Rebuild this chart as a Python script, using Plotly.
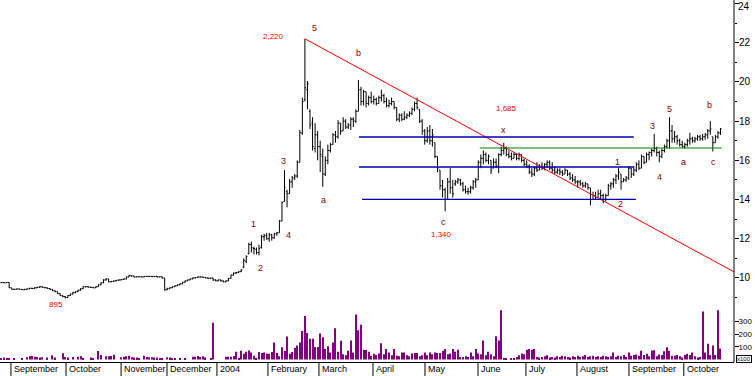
import plotly.graph_objects as go

# ---------------- data ----------------
open_ = [
 9.76,9.76,9.75,9.77,9.50,9.42,9.42,9.44,9.42,9.40,
 9.42,9.44,9.47,9.46,9.50,9.52,9.55,9.52,9.50,9.46,
 9.42,9.35,9.30,9.20,9.10,9.05,9.00,9.10,9.18,9.25,
 9.30,9.38,9.45,9.55,9.55,9.53,9.52,9.50,9.55,9.65,
 9.75,9.90,9.95,9.80,9.82,9.85,9.88,9.90,9.92,9.95,
 10.05,10.12,10.10,10.05,10.06,10.06,10.05,10.08,10.08,10.08,
 10.07,10.08,10.05,10.06,10.00,9.40,9.45,9.50,9.55,9.60,
 9.65,9.70,9.78,9.85,9.90,9.95,10.00,10.02,10.05,10.05,
 10.03,10.00,9.98,10.00,9.90,9.85,9.90,9.85,9.80,9.85,
 9.98,10.15,10.25,10.28,10.32,10.55,10.85,11.25,11.70,11.50,
 11.45,11.30,11.55,12.10,12.15,12.00,12.20,12.05,12.25,12.30,
 12.90,13.90,14.40,14.30,14.90,15.10,15.20,15.90,17.40,19.10,
 19.60,18.50,17.90,16.60,17.30,16.70,16.20,15.30,16.00,16.50,
 16.80,17.30,17.20,17.90,17.50,18.00,17.70,17.80,18.10,18.00,
 18.50,19.60,19.00,19.50,18.90,19.20,19.00,19.10,18.90,19.20,
 19.30,19.00,18.80,18.90,19.00,18.70,18.10,18.30,18.10,18.20,
 18.30,18.40,18.60,18.90,18.60,18.00,17.50,17.00,17.50,17.00,
 16.90,16.20,15.50,14.70,14.50,14.00,14.90,14.60,14.80,14.90,
 15.00,14.80,14.50,14.40,14.40,14.60,14.90,15.00,15.90,16.10,
 16.30,16.00,16.00,15.60,15.90,15.70,16.30,16.50,16.60,16.30,
 16.20,16.10,16.30,16.10,16.30,16.00,15.80,15.70,15.40,15.30,
 15.60,15.50,15.70,15.60,15.80,15.90,15.60,15.50,15.40,15.50,
 15.40,15.30,15.50,15.30,15.10,15.00,14.90,14.90,14.80,14.70,
 14.80,14.60,14.00,14.20,14.10,14.30,14.20,14.00,14.20,14.70,
 14.80,15.00,15.20,15.30,14.90,15.00,15.10,15.60,15.30,15.50,
 15.80,15.60,16.20,15.90,16.30,16.40,16.50,16.60,16.40,16.20,
 16.50,16.70,17.00,17.50,17.10,17.20,17.00,16.80,16.70,16.80,
 17.00,17.10,17.00,17.10,17.20,17.10,17.20,17.30,17.50,17.20,
 16.90,17.20,17.40]
high = [
 9.78,9.78,9.78,9.78,9.50,9.45,9.46,9.45,9.43,9.44,
 9.46,9.50,9.50,9.52,9.55,9.58,9.57,9.53,9.51,9.48,
 9.43,9.36,9.31,9.22,9.12,9.08,9.12,9.20,9.27,9.32,
 9.40,9.47,9.57,9.58,9.57,9.55,9.53,9.57,9.68,9.78,
 9.93,9.98,9.96,9.85,9.87,9.90,9.92,9.94,9.97,10.07,
 10.14,10.13,10.11,10.08,10.08,10.07,10.10,10.10,10.10,10.09,
 10.10,10.09,10.08,10.07,10.00,9.50,9.52,9.57,9.62,9.67,
 9.72,9.80,9.87,9.92,9.97,10.02,10.04,10.07,10.07,10.06,
 10.04,10.02,10.02,10.00,9.93,9.92,9.92,9.87,9.87,10.00,
 10.17,10.27,10.30,10.34,10.45,11.00,11.15,11.80,11.85,11.60,
 11.55,11.70,12.20,12.25,12.30,12.30,12.25,12.30,12.35,12.95,
 13.90,15.50,14.50,15.05,15.20,15.30,16.00,17.55,19.20,22.20,
 20.05,18.60,18.20,17.90,17.50,17.00,16.60,16.20,16.80,16.90,
 17.40,17.50,18.05,17.90,18.20,18.10,17.90,18.20,18.20,18.60,
 20.10,19.75,19.60,19.50,19.30,19.50,19.30,19.20,19.30,19.60,
 19.40,19.20,19.10,19.20,19.00,18.70,18.40,18.40,18.50,18.40,
 18.50,18.70,19.00,19.20,18.60,18.10,17.60,17.70,17.80,17.60,
 16.90,16.20,15.50,15.00,14.60,15.10,15.60,15.00,15.00,15.10,
 15.05,14.90,14.70,14.60,14.70,15.00,15.10,16.00,16.30,16.50,
 16.40,16.30,16.00,16.10,16.10,16.35,16.70,16.90,16.70,16.50,
 16.40,16.40,16.35,16.40,16.30,16.10,16.00,15.80,15.60,15.70,
 15.90,15.80,15.90,15.85,16.00,16.00,15.90,15.70,15.60,15.60,
 15.50,15.60,15.50,15.40,15.30,15.20,15.00,15.00,14.90,14.90,
 14.80,14.60,14.40,14.40,14.50,14.50,14.30,14.30,14.80,14.90,
 15.10,15.30,15.60,15.30,15.10,15.20,15.70,15.60,15.70,15.90,
 16.00,16.30,16.20,16.40,16.45,16.60,17.35,16.70,16.50,16.60,
 16.80,17.10,18.20,17.80,17.50,17.30,17.10,17.00,16.90,17.10,
 17.40,17.20,17.20,17.30,17.30,17.35,17.40,17.60,18.00,17.20,
 17.30,17.50,17.65]
low = [
 9.74,9.74,9.74,9.48,9.40,9.40,9.40,9.40,9.38,9.38,
 9.40,9.42,9.44,9.44,9.48,9.50,9.50,9.47,9.44,9.40,
 9.33,9.27,9.18,9.08,9.02,8.95,8.98,9.08,9.15,9.22,
 9.28,9.35,9.43,9.52,9.51,9.49,9.47,9.48,9.54,9.63,
 9.73,9.86,9.78,9.78,9.80,9.82,9.85,9.87,9.90,9.93,
 10.03,10.06,10.03,10.03,10.04,10.03,10.04,10.06,10.05,10.05,
 10.05,10.03,10.03,9.97,9.35,9.38,9.43,9.48,9.53,9.58,
 9.63,9.68,9.76,9.83,9.88,9.93,9.97,10.00,10.02,10.01,
 9.98,9.96,9.96,9.85,9.83,9.83,9.82,9.78,9.78,9.83,
 9.96,10.12,10.20,10.25,10.30,10.50,10.75,11.20,11.30,11.20,
 11.20,11.15,11.50,11.90,11.95,11.85,11.90,12.00,12.15,12.30,
 12.90,13.90,13.60,14.30,14.60,15.00,15.10,15.90,17.30,19.00,
 18.60,17.60,16.50,16.40,16.00,15.40,14.65,15.20,15.80,16.40,
 16.80,16.90,17.10,17.30,17.50,17.60,17.60,17.55,17.70,17.90,
 18.50,18.80,18.80,18.70,18.80,18.90,18.85,18.80,18.90,19.00,
 18.90,18.70,18.70,18.80,18.60,18.00,17.95,18.00,18.05,18.10,
 18.20,18.30,18.50,18.60,17.90,17.30,16.80,16.90,16.80,16.70,
 16.10,15.40,14.50,14.10,13.40,14.00,14.30,14.10,14.70,14.80,
 14.70,14.40,14.30,14.25,14.30,14.50,14.60,15.00,15.60,15.80,
 15.90,15.80,15.30,15.60,15.60,15.35,16.20,16.30,16.20,16.10,
 16.00,16.10,16.00,16.00,15.90,15.70,15.60,15.30,15.15,15.20,
 15.40,15.50,15.50,15.50,15.60,15.50,15.35,15.30,15.30,15.25,
 15.20,15.30,15.20,15.00,14.90,14.80,14.60,14.70,14.60,14.60,
 14.50,13.70,14.00,14.00,14.10,14.00,13.80,13.90,14.20,14.50,
 14.60,14.80,15.00,14.50,14.90,14.90,15.00,15.10,15.20,15.40,
 15.50,15.60,15.80,15.90,16.00,16.20,16.40,16.20,15.90,16.10,
 16.40,16.60,16.60,16.90,16.90,16.80,16.70,16.65,16.60,16.70,
 16.80,16.90,16.90,17.00,17.00,17.00,17.05,17.10,17.30,16.45,
 16.90,17.10,17.30]
close = [
 9.76,9.75,9.77,9.50,9.42,9.42,9.44,9.42,9.40,9.42,
 9.44,9.47,9.46,9.50,9.52,9.55,9.52,9.50,9.46,9.42,
 9.35,9.30,9.20,9.10,9.05,9.00,9.10,9.18,9.25,9.30,
 9.38,9.45,9.55,9.55,9.53,9.52,9.50,9.55,9.65,9.75,
 9.90,9.95,9.80,9.82,9.85,9.88,9.90,9.92,9.95,10.05,
 10.12,10.10,10.05,10.06,10.06,10.05,10.08,10.08,10.08,10.07,
 10.08,10.05,10.06,10.00,9.40,9.45,9.50,9.55,9.60,9.65,
 9.70,9.78,9.85,9.90,9.95,10.00,10.02,10.05,10.05,10.03,
 10.00,9.98,10.00,9.90,9.85,9.90,9.85,9.80,9.85,9.98,
 10.15,10.25,10.28,10.32,10.40,10.90,11.10,11.70,11.55,11.50,
 11.30,11.50,12.10,12.15,12.00,12.20,12.05,12.25,12.30,12.90,
 13.85,14.60,14.30,14.90,15.10,15.20,15.90,17.40,19.00,19.70,
 19.90,17.80,16.70,17.30,16.70,16.30,15.30,16.00,16.50,16.80,
 17.30,17.20,17.90,17.50,18.00,17.70,17.80,18.10,18.00,18.50,
 19.60,19.00,19.50,18.90,19.20,19.00,19.10,18.90,19.20,19.30,
 19.00,18.80,18.90,19.00,18.70,18.10,18.30,18.10,18.20,18.30,
 18.40,18.60,18.90,18.70,18.00,17.50,17.00,17.50,17.00,17.30,
 16.20,15.60,14.70,14.50,14.00,14.90,14.60,14.30,14.90,15.00,
 14.80,14.50,14.40,14.40,14.60,14.90,15.00,15.90,16.10,16.30,
 16.00,16.20,15.50,15.90,15.70,16.30,16.50,16.60,16.30,16.20,
 16.10,16.30,16.10,16.30,16.00,15.80,15.70,15.40,15.30,15.60,
 15.50,15.70,15.60,15.80,15.90,15.60,15.50,15.40,15.50,15.40,
 15.30,15.50,15.30,15.10,15.00,14.90,14.90,14.80,14.70,14.80,
 14.60,14.00,14.20,14.10,14.30,14.20,14.00,14.20,14.70,14.80,
 15.00,15.20,15.40,14.90,15.00,15.10,15.60,15.30,15.50,15.80,
 15.60,16.20,15.90,16.30,16.40,16.50,16.60,16.40,16.20,16.50,
 16.70,17.00,17.50,17.10,17.20,17.00,16.80,16.70,16.80,17.00,
 17.10,17.00,17.10,17.20,17.10,17.20,17.30,17.50,17.60,16.90,
 17.20,17.40,17.60]
volume = [
 12,15,12,12,0,12,0,0,12,0,
 18,25,28,22,20,15,18,0,15,0,
 33,15,0,0,49,20,15,0,20,0,
 22,25,12,0,0,15,12,0,66,35,
 0,25,25,28,38,0,0,18,22,25,
 30,18,15,15,12,0,30,20,18,18,
 15,15,12,12,0,18,15,12,12,0,
 12,0,12,0,0,22,22,28,20,25,
 15,0,12,290,0,0,0,0,22,22,
 22,28,60,12,68,45,60,70,55,30,
 12,58,50,55,45,45,58,134,50,25,
 96,66,180,45,58,90,109,134,224,342,
 208,164,164,98,98,205,175,82,104,55,
 134,246,60,148,41,33,68,150,55,355,
 230,273,74,74,60,30,45,35,46,128,
 41,82,55,33,82,30,25,55,55,33,
 25,46,50,50,25,33,55,33,55,41,
 55,50,50,68,82,41,46,82,60,77,
 20,20,25,20,55,25,82,46,41,150,
 33,60,41,25,183,150,388,5,5,0,
 8,8,20,33,46,41,77,82,77,82,
 20,15,20,25,33,15,20,15,25,20,
 30,25,20,15,25,20,30,20,25,35,
 20,25,30,20,25,20,30,25,20,25,
 55,20,30,25,35,20,55,30,35,40,
 30,68,35,45,25,70,72,25,40,35,
 65,96,68,30,30,35,25,15,35,45,
 35,55,25,15,20,377,55,123,35,109,
 35,388,87]

# month boundaries, expressed in trading-day index, and their labels
month_starts = [3.7, 25.3, 46.9, 64.9, 84.5, 104.5, 124.5, 145.7, 166.1, 186.9, 205.7, 225.7, 246.1, 267.6]
month_labels = ["September", "October", "November", "December", "2004", "February", "March",
                "April", "May", "June", "July", "August", "September", "October"]

price_ticks = [10, 12, 14, 16, 18, 20, 22, 24]
price_tick_text = ["10", "12", "14", "16", "18", "20", "22", ""]   # "24" drawn below the top edge
top_tick_text = "24"
vol_ticks = [100, 200, 300]
vol_tick_text = ["100", "200", "300"]

# ---------------- figure ----------------
idx = list(range(len(close)))
vidx = list(range(len(volume)))

fig = go.Figure()
fig.add_trace(go.Ohlc(x=idx, open=open_, high=high, low=low, close=close,
                      increasing=dict(line=dict(color="black", width=1)),
                      decreasing=dict(line=dict(color="black", width=1)),
                      tickwidth=0.45, yaxis="y", hoverinfo="skip"))
fig.add_trace(go.Bar(x=vidx, y=volume, width=0.4, marker=dict(color="#800080", line=dict(width=0)),
                     yaxis="y2", hoverinfo="skip"))

X_END = 287.3
FONT = "Liberation Sans, Arial, sans-serif"

shapes = []
# trend line from the top
shapes.append(dict(type="line", xref="x", yref="y", x0=119, y0=22.2, x1=X_END, y1=10.31,
                   line=dict(color="#ff0000", width=1)))
# blue horizontal levels
for y, x0, x1 in [(17.19, 140.2, 248.0), (15.66, 140.2, 248.0), (14.01, 141.4, 248.8)]:
    shapes.append(dict(type="line", xref="x", yref="y", x0=x0, x1=x1, y0=y, y1=y,
                       line=dict(color="#0000b4", width=1.3)))
# green level
shapes.append(dict(type="line", xref="x", yref="y", x0=187.6, x1=282.5, y0=16.63, y1=16.63,
                   line=dict(color="#008000", width=1.2)))
# right axis line
shapes.append(dict(type="line", xref="paper", yref="paper", x0=1, x1=1, y0=0, y1=1,
                   line=dict(color="black", width=1)))
# month separators below the axis
for m in month_starts:
    shapes.append(dict(type="line", xref="x", yref="paper", x0=m, x1=m, y0=0, y1=-0.04,
                       line=dict(color="black", width=1)))

annotations = []
for m, lab in zip(month_starts, month_labels):
    annotations.append(dict(x=m, y=-0.02, xref="x", yref="paper", text=lab, showarrow=False,
                            xanchor="left", yanchor="middle", xshift=1,
                            font=dict(family=FONT, size=9, color="black")))

wave = [("5", 122.7, 22.74), ("b", 140, 21.5), ("3", 110.5, 15.97), ("1", 99, 12.74),
        ("2", 101.5, 10.53), ("4", 112.7, 12.18), ("a", 126.2, 14.0), ("c", 173.3, 12.84),
        ("x", 196.9, 17.55), ("3", 255.2, 17.77), ("5", 261.9, 18.62), ("b", 277.8, 18.8),
        ("a", 267.5, 15.9), ("c", 279.1, 15.9), ("4", 257.9, 15.17), ("1", 241.5, 15.9),
        ("2", 242.8, 13.78)]
for t, x, y in wave:
    annotations.append(dict(x=x, y=y, xref="x", yref="y", text=t, showarrow=False,
                            font=dict(family=FONT, size=9, color="#8b0000")))
prices = [("2,220", 106.5, 22.3), ("1,340", 172.4, 12.23), ("1,685", 198.1, 18.62), ("895", 21.4, 8.66)]
for t, x, y in prices:
    annotations.append(dict(x=x, y=y, xref="x", yref="y", text=t, showarrow=False,
                            font=dict(family=FONT, size=8, color="#ff0000")))
annotations.append(dict(x=1, y=0.008, xref="paper", yref="paper", text="x100", showarrow=False,
                        xanchor="left", yanchor="middle", xshift=2, bordercolor="black",
                        borderwidth=1, borderpad=0, font=dict(family=FONT, size=6, color="black")))
annotations.append(dict(x=1, y=1, xref="paper", yref="paper", text=top_tick_text, showarrow=False,
                        xanchor="left", yanchor="top", xshift=2, yshift=1,
                        font=dict(family=FONT, size=10, color="black")))

fig.update_layout(
    width=755, height=376, margin=dict(l=0, r=21, t=0, b=14, autoexpand=False),
    paper_bgcolor="white", plot_bgcolor="white", showlegend=False,
    shapes=shapes, annotations=annotations,
    xaxis=dict(range=[-0.59, X_END], showticklabels=False, ticks="", showgrid=False,
               zeroline=False, showline=True, linecolor="black", linewidth=1,
               anchor="y2", rangeslider=dict(visible=False)),
    yaxis=dict(domain=[0.1575, 1], range=[8.62, 24.18], side="right", anchor="x",
               tickvals=price_ticks, ticktext=price_tick_text, ticks="outside", ticklen=4,
               tickcolor="black", ticklabelstandoff=-2, ticklabeloverflow="allow",
               minor=dict(tickvals=[9, 11, 13, 15, 17, 19, 21, 23], ticks="outside", ticklen=2,
                          tickcolor="black"),
               showgrid=False, zeroline=False, showline=False,
               tickfont=dict(family=FONT, size=10, color="black")),
    yaxis2=dict(domain=[0, 0.1575], range=[-20, 429], side="right", anchor="x",
                tickvals=vol_ticks, ticktext=vol_tick_text, ticks="outside", ticklen=4,
                tickcolor="black", ticklabelstandoff=-2, ticklabeloverflow="allow",
                showgrid=False, zeroline=False, showline=False,
                tickfont=dict(family=FONT, size=8, color="black")),
)

fig.write_html("out.html", config={"displayModeBar": False},
               post_script="document.body.style.margin='0';document.body.style.overflow='hidden';")
